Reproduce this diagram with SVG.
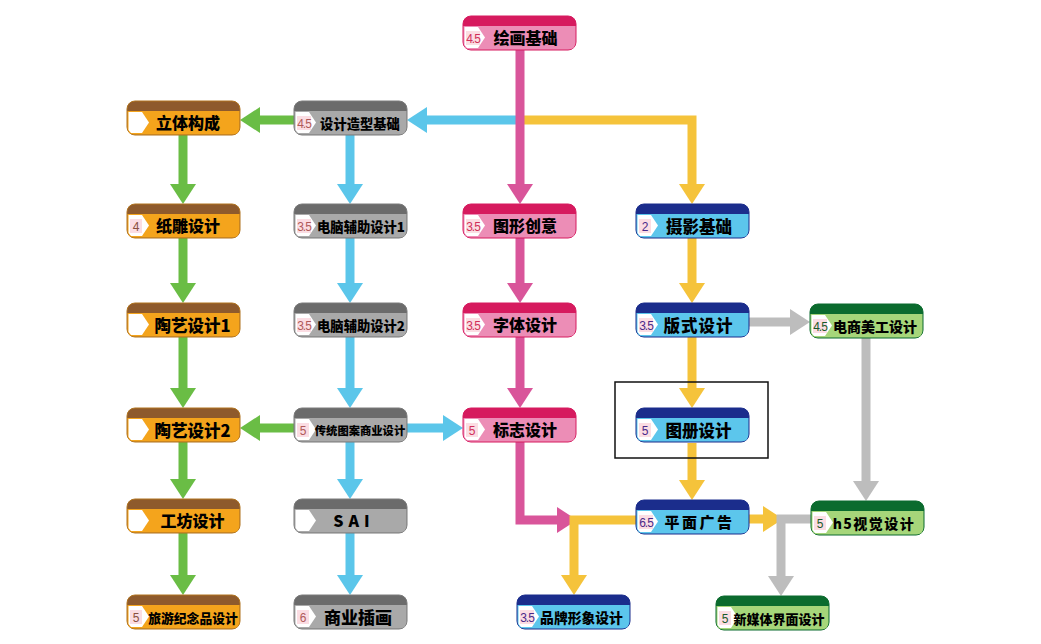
<svg xmlns="http://www.w3.org/2000/svg" width="1041" height="644" viewBox="0 0 1041 644">
<defs>
<style>
.lbl{font-family:"Noto Sans CJK SC","Liberation Sans",sans-serif;font-weight:900;fill:#000;text-anchor:middle}
.num{font-family:"Liberation Sans","Noto Sans",sans-serif;text-anchor:middle;font-size:12px}
.nb{fill:#fbdde3}
.c{fill:none;stroke-width:9}
.o{--dk:#8e5a2c;--st:#b0731e;--lt:#f4a41c}.o .num{fill:#8a5040}
.g{--dk:#6b6b6b;--st:#7a7a7a;--lt:#a9a9a9}.g .num{fill:#b05a5a}
.p{--dk:#d61a5e;--st:#d61a5e;--lt:#ec8db6}.p .num{fill:#d0305a}
.b{--dk:#1b2d8c;--st:#1b2d8c;--lt:#5cc6ec}.b .num{fill:#4a2a8a}
.e{--dk:#0b6b2e;--st:#0b6b2e;--lt:#a6d67a}.e .num{fill:#1a5a2a}
</style>
<marker id="mG" markerUnits="userSpaceOnUse" markerWidth="22" markerHeight="26" refX="1" refY="13" orient="auto"><path d="M0,0 L20,13 L0,26 Z" fill="#6abd45"/></marker>
<marker id="mB" markerUnits="userSpaceOnUse" markerWidth="22" markerHeight="26" refX="1" refY="13" orient="auto"><path d="M0,0 L20,13 L0,26 Z" fill="#5bc6ea"/></marker>
<marker id="mP" markerUnits="userSpaceOnUse" markerWidth="22" markerHeight="26" refX="1" refY="13" orient="auto"><path d="M0,0 L20,13 L0,26 Z" fill="#d9559a"/></marker>
<marker id="mY" markerUnits="userSpaceOnUse" markerWidth="22" markerHeight="26" refX="1" refY="13" orient="auto"><path d="M0,0 L20,13 L0,26 Z" fill="#f5c33b"/></marker>
<marker id="mS" markerUnits="userSpaceOnUse" markerWidth="22" markerHeight="26" refX="1" refY="13" orient="auto"><path d="M0,0 L20,13 L0,26 Z" fill="#bdbdbd"/></marker>
<g id="shape">
<rect x="0" y="0" width="113" height="34" rx="8" stroke-width="1" style="fill:var(--dk);stroke:var(--st)"/>
<path d="M0.5,10 H112.5 V26 Q112.5,33.5 105,33.5 H8 Q0.5,33.5 0.5,26 Z" style="fill:var(--lt)"/>
<polygon points="1.5,11 15,11 22,21.5 15,32 4,32 1.5,29" fill="#fff"/>
</g>
</defs>
<rect width="1041" height="644" fill="#fff"/>

<g id="connectors">
<path class="c" stroke="#f5c33b" d="M524,120 H692 V185" marker-end="url(#mY)"/>
<path class="c" stroke="#5bc6ea" d="M516,120 H426" marker-end="url(#mB)"/>
<path class="c" stroke="#d9559a" d="M520,50 V185" marker-end="url(#mP)"/>
<path class="c" stroke="#d9559a" d="M520,238 V284" marker-end="url(#mP)"/>
<path class="c" stroke="#d9559a" d="M520,442 V520 H558" marker-end="url(#mP)"/>
<path class="c" stroke="#d9559a" d="M520,337 V389" marker-end="url(#mP)"/>
<path class="c" stroke="#f5c33b" d="M692,238 V284" marker-end="url(#mY)"/>
<path class="c" stroke="#f5c33b" d="M692,337 V389" marker-end="url(#mY)"/>
<path class="c" stroke="#f5c33b" d="M692,443 V481" marker-end="url(#mY)"/>
<path class="c" stroke="#f5c33b" d="M636,520 H574 V576" marker-end="url(#mY)"/>
<path class="c" stroke="#f5c33b" d="M748,519 H764" marker-end="url(#mY)"/>
<path class="c" stroke="#5bc6ea" d="M350,135 V185" marker-end="url(#mB)"/>
<path class="c" stroke="#5bc6ea" d="M350,238 V284" marker-end="url(#mB)"/>
<path class="c" stroke="#5bc6ea" d="M350,337 V389" marker-end="url(#mB)"/>
<path class="c" stroke="#5bc6ea" d="M350,442 V480" marker-end="url(#mB)"/>
<path class="c" stroke="#5bc6ea" d="M350,533 V576" marker-end="url(#mB)"/>
<path class="c" stroke="#5bc6ea" d="M407,428 H444" marker-end="url(#mB)"/>
<path class="c" stroke="#6abd45" d="M294,120 H259" marker-end="url(#mG)"/>
<path class="c" stroke="#6abd45" d="M183,135 V185" marker-end="url(#mG)"/>
<path class="c" stroke="#6abd45" d="M183,238 V284" marker-end="url(#mG)"/>
<path class="c" stroke="#6abd45" d="M183,337 V389" marker-end="url(#mG)"/>
<path class="c" stroke="#6abd45" d="M183,442 V480" marker-end="url(#mG)"/>
<path class="c" stroke="#6abd45" d="M183,533 V576" marker-end="url(#mG)"/>
<path class="c" stroke="#6abd45" d="M294,428 H259" marker-end="url(#mG)"/>
<path class="c" stroke="#bdbdbd" d="M748,322 H791" marker-end="url(#mS)"/>
<path class="c" stroke="#bdbdbd" d="M866,338 V482" marker-end="url(#mS)"/>
<path class="c" stroke="#bdbdbd" d="M811,519 H781 V577" marker-end="url(#mS)"/>
</g>

<rect id="highlight" x="615" y="382" width="153" height="76" fill="none" stroke="#111" stroke-width="1.5"/>

<g id="n-huihua" class="p" transform="translate(463,16)"><use href="#shape"/><rect class="nb" x="3" y="15" width="14" height="14"/><text class="num" x="10" y="27" font-size="11.5" letter-spacing="-1">4.5</text><text class="lbl" x="62.5" y="28" font-size="16">绘画基础</text></g>
<g id="n-sheji" class="g" transform="translate(294,101)"><use href="#shape"/><rect class="nb" x="3" y="15" width="14" height="14"/><text class="num" x="10" y="27" font-size="11.5" letter-spacing="-1">4.5</text><text class="lbl" x="66" y="27.5" font-size="13.3">设计造型基础</text></g>
<g id="n-liti" class="o" transform="translate(127,101)"><use href="#shape"/><text class="lbl" x="61" y="28" font-size="16">立体构成</text></g>
<g id="n-zhidiao" class="o" transform="translate(127,204)"><use href="#shape"/><rect class="nb" x="3" y="15" width="12" height="14"/><text class="num" x="9" y="27" font-size="13.5">4</text><text class="lbl" x="61" y="28" font-size="16">纸雕设计</text></g>
<g id="n-diannao1" class="g" transform="translate(294,204)"><use href="#shape"/><rect class="nb" x="3" y="15" width="14" height="14"/><text class="num" x="10" y="27" font-size="11.5" letter-spacing="-1">3.5</text><text class="lbl" x="67" y="27.5" font-size="13.3">电脑辅助设计1</text></g>
<g id="n-tuxing" class="p" transform="translate(463,204)"><use href="#shape"/><rect class="nb" x="3" y="15" width="14" height="14"/><text class="num" x="10" y="27" font-size="11.5" letter-spacing="-1">3.5</text><text class="lbl" x="62" y="28" font-size="16">图形创意</text></g>
<g id="n-sheying" class="b" transform="translate(636,204)"><use href="#shape"/><rect class="nb" x="3" y="15" width="12" height="14"/><text class="num" x="9" y="27" font-size="13.5">2</text><text class="lbl" x="63" y="28.5" font-size="16.5">摄影基础</text></g>
<g id="n-taoyi1" class="o" transform="translate(127,303)"><use href="#shape"/><text class="lbl" x="65.5" y="28.5" font-size="16.5">陶艺设计1</text></g>
<g id="n-diannao2" class="g" transform="translate(294,303)"><use href="#shape"/><rect class="nb" x="3" y="15" width="14" height="14"/><text class="num" x="10" y="27" font-size="11.5" letter-spacing="-1">3.5</text><text class="lbl" x="67" y="27.5" font-size="13.3">电脑辅助设计2</text></g>
<g id="n-ziti" class="p" transform="translate(463,303)"><use href="#shape"/><rect class="nb" x="3" y="15" width="14" height="14"/><text class="num" x="10" y="27" font-size="11.5" letter-spacing="-1">3.5</text><text class="lbl" x="62" y="28" font-size="16">字体设计</text></g>
<g id="n-banshi" class="b" transform="translate(636,303)"><use href="#shape"/><rect class="nb" x="3" y="15" width="14" height="14"/><text class="num" x="10" y="27" font-size="11.5" letter-spacing="-1">3.5</text><text class="lbl" x="62.5" y="28.5" font-size="16.5" letter-spacing="1">版式设计</text></g>
<g id="n-dianshang" class="e" transform="translate(810,304)"><use href="#shape"/><rect class="nb" x="3" y="15" width="14" height="14"/><text class="num" x="10" y="27" font-size="11.5" letter-spacing="-1">4.5</text><text class="lbl" x="65" y="27.5" font-size="14">电商美工设计</text></g>
<g id="n-taoyi2" class="o" transform="translate(127,408)"><use href="#shape"/><text class="lbl" x="65.5" y="28.5" font-size="16.5">陶艺设计2</text></g>
<g id="n-chuantong" class="g" transform="translate(294,408)"><use href="#shape"/><rect class="nb" x="3" y="15" width="12" height="14"/><text class="num" x="9" y="27" font-size="13.5">5</text><text class="lbl" x="66" y="27" font-size="11.3">传统图案商业设计</text></g>
<g id="n-biaozhi" class="p" transform="translate(463,408)"><use href="#shape"/><rect class="nb" x="3" y="15" width="12" height="14"/><text class="num" x="9" y="27" font-size="13.5">5</text><text class="lbl" x="62" y="28" font-size="16">标志设计</text></g>
<g id="n-tuce" class="b" transform="translate(636,408)"><use href="#shape"/><rect class="nb" x="3" y="15" width="12" height="14"/><text class="num" x="9" y="27" font-size="13.5">5</text><text class="lbl" x="62.5" y="28.5" font-size="16.5">图册设计</text></g>
<g id="n-gongfang" class="o" transform="translate(127,499)"><use href="#shape"/><text class="lbl" x="65.5" y="28" font-size="16">工坊设计</text></g>
<g id="n-sai" class="g" transform="translate(294,499)"><use href="#shape"/><text class="lbl" x="60" y="28" font-size="16" letter-spacing="5">SAI</text></g>
<g id="n-pingmian" class="b" transform="translate(636,500)"><use href="#shape"/><rect class="nb" x="3" y="15" width="14" height="14"/><text class="num" x="10" y="27" font-size="11.5" letter-spacing="-1">6.5</text><text class="lbl" x="63.5" y="28" font-size="15" letter-spacing="2.5">平面广告</text></g>
<g id="n-h5" class="e" transform="translate(811,501)"><use href="#shape"/><rect class="nb" x="3" y="15" width="12" height="14"/><text class="num" x="9" y="27" font-size="13.5">5</text><text class="lbl" x="63" y="27.5" font-size="14" letter-spacing="1.5">h5视觉设计</text></g>
<g id="n-lvyou" class="o" transform="translate(127,595)"><use href="#shape"/><rect class="nb" x="3" y="15" width="12" height="14"/><text class="num" x="9" y="27" font-size="13.5">5</text><text class="lbl" x="66" y="27.5" font-size="12.8">旅游纪念品设计</text></g>
<g id="n-chahua" class="g" transform="translate(294,595)"><use href="#shape"/><rect class="nb" x="3" y="15" width="12" height="14"/><text class="num" x="9" y="27" font-size="13.5">6</text><text class="lbl" x="64" y="28.5" font-size="17">商业插画</text></g>
<g id="n-pinpai" class="b" transform="translate(517,595)"><use href="#shape"/><rect class="nb" x="3" y="15" width="14" height="14"/><text class="num" x="10" y="27" font-size="11.5" letter-spacing="-1">3.5</text><text class="lbl" x="64.5" y="27.5" font-size="13.8">品牌形象设计</text></g>
<g id="n-xinmeiti" class="e" transform="translate(716,596)"><use href="#shape"/><rect class="nb" x="3" y="15" width="12" height="14"/><text class="num" x="9" y="27" font-size="13.5">5</text><text class="lbl" x="63" y="27.5" font-size="13">新媒体界面设计</text></g>
</svg>
